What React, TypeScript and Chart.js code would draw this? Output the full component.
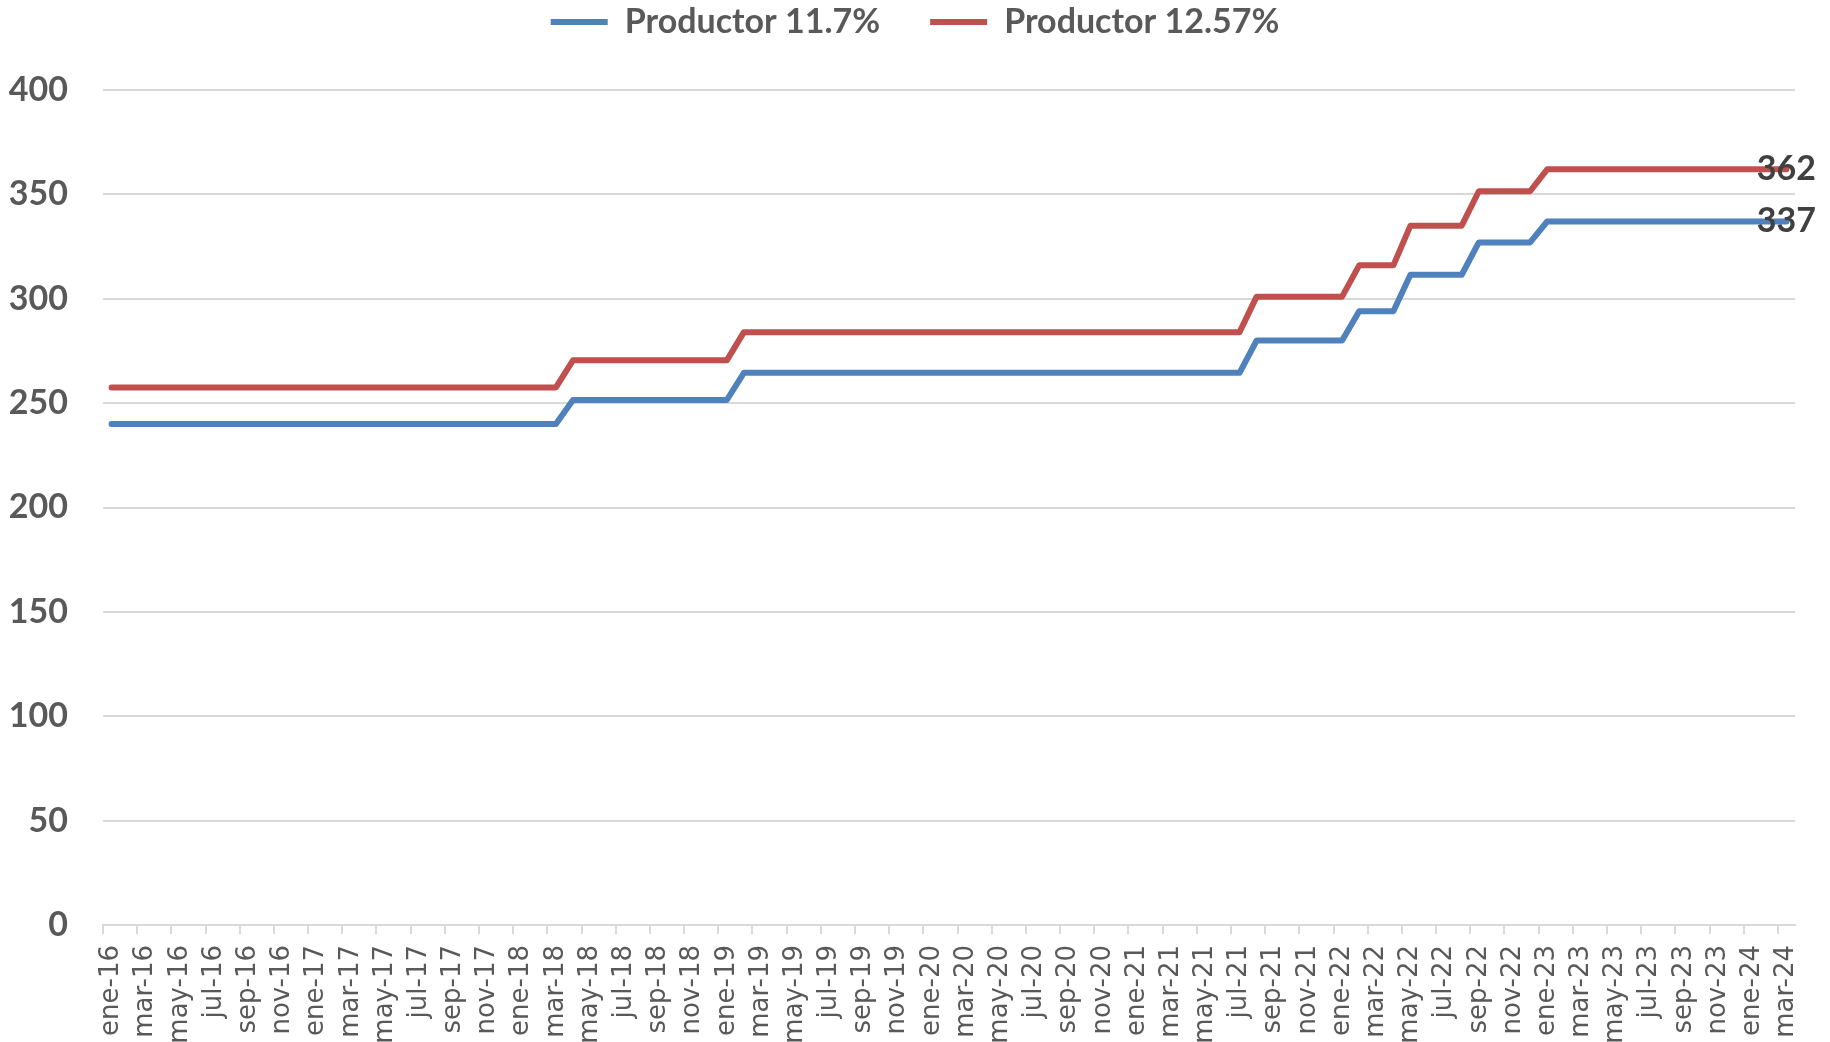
import React, { useEffect, useRef } from 'react';
import { Chart, registerables } from 'chart.js';

Chart.register(...registerables);

// ---- data ----
const monthNames = ['ene', 'feb', 'mar', 'abr', 'may', 'jun', 'jul', 'ago', 'sep', 'oct', 'nov', 'dic'];
const yearSuffixes = ['16', '17', '18', '19', '20', '21', '22', '23', '24'];
const allMonths: string[] = [];
yearSuffixes.forEach((y) => monthNames.forEach((m) => allMonths.push(`${m}-${y}`)));
const categories = allMonths.slice(0, 99); // ene-16 .. mar-24

const seriesLabels = ['Productor 11.7%', 'Productor 12.57%'];

const productor117 = [
  // 2016
  240, 240, 240, 240, 240, 240, 240, 240, 240, 240, 240, 240,
  // 2017
  240, 240, 240, 240, 240, 240, 240, 240, 240, 240, 240, 240,
  // 2018
  240, 240, 240, 251.5, 251.5, 251.5, 251.5, 251.5, 251.5, 251.5, 251.5, 251.5,
  // 2019
  251.5, 264.5, 264.5, 264.5, 264.5, 264.5, 264.5, 264.5, 264.5, 264.5, 264.5, 264.5,
  // 2020
  264.5, 264.5, 264.5, 264.5, 264.5, 264.5, 264.5, 264.5, 264.5, 264.5, 264.5, 264.5,
  // 2021
  264.5, 264.5, 264.5, 264.5, 264.5, 264.5, 264.5, 280, 280, 280, 280, 280,
  // 2022
  280, 294, 294, 294, 311.5, 311.5, 311.5, 311.5, 327, 327, 327, 327,
  // 2023
  337, 337, 337, 337, 337, 337, 337, 337, 337, 337, 337, 337,
  // 2024
  337, 337, 337,
];

const productor1257 = [
  // 2016
  257.5, 257.5, 257.5, 257.5, 257.5, 257.5, 257.5, 257.5, 257.5, 257.5, 257.5, 257.5,
  // 2017
  257.5, 257.5, 257.5, 257.5, 257.5, 257.5, 257.5, 257.5, 257.5, 257.5, 257.5, 257.5,
  // 2018
  257.5, 257.5, 257.5, 270.5, 270.5, 270.5, 270.5, 270.5, 270.5, 270.5, 270.5, 270.5,
  // 2019
  270.5, 284, 284, 284, 284, 284, 284, 284, 284, 284, 284, 284,
  // 2020
  284, 284, 284, 284, 284, 284, 284, 284, 284, 284, 284, 284,
  // 2021
  284, 284, 284, 284, 284, 284, 284, 301, 301, 301, 301, 301,
  // 2022
  301, 316, 316, 316, 335, 335, 335, 335, 351.5, 351.5, 351.5, 351.5,
  // 2023
  362, 362, 362, 362, 362, 362, 362, 362, 362, 362, 362, 362,
  // 2024
  362, 362, 362,
];

const yTickMin = 0;
const yTickMax = 400;
const yTickStep = 50;

const BLUE = '#4F81BD';
const RED = '#C0504D';
const GRID = '#D9D9D9';
const TEXT = '#595959';
const BOLD_FONT = 'Lato, "Open Sans", sans-serif';

const endLabelsPlugin = {
  id: 'endLabels',
  afterDatasetsDraw(chart: any) {
    const ctx = chart.ctx;
    chart.data.datasets.forEach((ds: any, i: number) => {
      const meta = chart.getDatasetMeta(i);
      const pts = meta.data;
      if (!pts || !pts.length) return;
      const last = pts[pts.length - 1];
      const v = ds.data[ds.data.length - 1];
      ctx.save();
      ctx.font = `bold 34px ${BOLD_FONT}`;
      ctx.fillStyle = '#404040';
      ctx.textAlign = 'center';
      ctx.textBaseline = 'middle';
      ctx.fillText(String(Math.round(v)), last.x, last.y);
      ctx.restore();
    });
  },
};

export default function App() {
  const canvasRef = useRef<HTMLCanvasElement | null>(null);

  useEffect(() => {
    if (!canvasRef.current) return;
    const chart = new Chart(canvasRef.current, {
      type: 'line',
      data: {
        labels: categories,
        datasets: [
          {
            label: seriesLabels[0],
            data: productor117,
            borderColor: BLUE,
            backgroundColor: BLUE,
            borderWidth: 6,
            pointRadius: 0,
            tension: 0,
            borderJoinStyle: 'round',
            borderCapStyle: 'round',
          },
          {
            label: seriesLabels[1],
            data: productor1257,
            borderColor: RED,
            backgroundColor: RED,
            borderWidth: 6,
            pointRadius: 0,
            tension: 0,
            borderJoinStyle: 'round',
            borderCapStyle: 'round',
          },
        ],
      },
      options: {
        responsive: false,
        animation: false,
        devicePixelRatio: 1,
        layout: { padding: { top: -45, left: 0, right: 0, bottom: 0 } },
        plugins: {
          tooltip: { enabled: false },
          // empty spacer between the legend and the plot area
          subtitle: {
            display: true,
            text: '',
            position: 'top',
            weight: 500,
            padding: 0,
            font: { size: 41, lineHeight: 1 },
          },
          legend: {
            display: true,
            position: 'top',
            labels: {
              boxWidth: 57,
              boxHeight: 6,
              padding: 50,
              color: TEXT,
              font: { family: BOLD_FONT, weight: 'bold', size: 34 },
              generateLabels: (ch: any) =>
                ch.data.datasets.map((ds: any, i: number) => ({
                  text: ds.label,
                  fillStyle: ds.borderColor,
                  strokeStyle: ds.borderColor,
                  lineWidth: 0,
                  hidden: false,
                  datasetIndex: i,
                  fontColor: TEXT,
                })),
            },
          },
        },
        scales: {
          x: {
            type: 'category',
            offset: true,
            grid: {
              offset: true,
              drawOnChartArea: false,
              color: GRID,
              lineWidth: 2,
              tickLength: 9,
              tickColor: (c: any) =>
                c.index !== undefined && c.index % 2 === 0 ? GRID : 'rgba(0,0,0,0)',
            },
            border: { display: true, color: GRID, width: 2 },
            ticks: {
              autoSkip: false,
              minRotation: 90,
              maxRotation: 90,
              padding: 11,
              color: TEXT,
              font: { family: '"DejaVu Sans", sans-serif', size: 26 },
              callback: (_v: any, i: number) => (i % 2 === 0 ? categories[i] : ''),
            },
            afterFit: (s: any) => {
              s.height = 117;
              s.paddingRight = 35;
            },
          },
          y: {
            min: yTickMin,
            max: yTickMax,
            grid: { color: GRID, lineWidth: 2, drawTicks: false },
            border: { display: false },
            ticks: {
              stepSize: yTickStep,
              padding: 35,
              color: TEXT,
              font: { family: BOLD_FONT, weight: 'bold', size: 34 },
            },
            afterFit: (s: any) => {
              s.width = 103;
            },
          },
        },
      },
      plugins: [endLabelsPlugin],
    } as any);
    return () => chart.destroy();
  }, []);

  return (
    <div style={{ position: 'absolute', left: 0, top: 0, width: 1830, height: 1042, background: '#fff' }}>
      <canvas ref={canvasRef} width={1830} height={1042} style={{ display: 'block' }} />
    </div>
  );
}
